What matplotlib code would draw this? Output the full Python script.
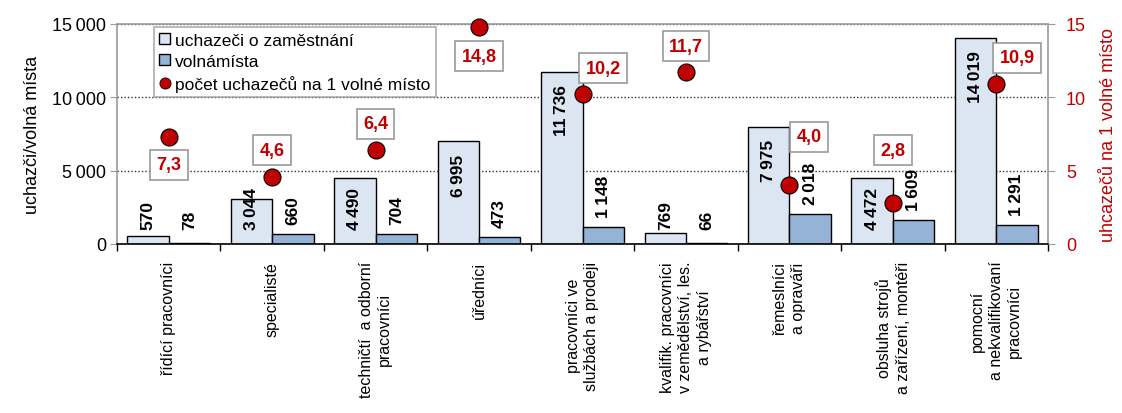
"""
Uchazeči o zaměstnání a volná místa podle tříd CZ-ISCO
bar chart (2 series) + ratio dots on a secondary axis
"""
import matplotlib
matplotlib.use("Agg")
import matplotlib.pyplot as plt
import numpy as np
from matplotlib.lines import Line2D
from matplotlib.patches import Patch

plt.rcParams["font.family"] = ["Liberation Sans", "DejaVu Sans"]

# ==================== data ====================
CATEGORIES = [
    "řídící pracovníci",
    "specialisté",
    "techničtí  a odborní\npracovníci",
    "úředníci",
    "pracovníci ve\nslužbách a prodeji",
    "kvalifik. pracovníci\nv zemědělství, les.\na rybářství",
    "řemeslníci\na opraváři",
    "obsluha strojů\na zařízení, montéři",
    "pomocní\na nekvalifikovaní\npracovníci",
]
UCHAZECI = [570, 3044, 4490, 6995, 11736, 769, 7975, 4472, 14019]
VOLNA_MISTA = [78, 660, 704, 473, 1148, 66, 2018, 1609, 1291]
POCET_NA_MISTO = [7.3, 4.6, 6.4, 14.8, 10.2, 11.7, 4.0, 2.8, 10.9]

Y_TICKS = [0, 5000, 10000, 15000]
Y2_TICKS = [0, 5, 10, 15]

SERIES_NAMES = ["uchazeči o zaměstnání", "volnámísta", "počet uchazečů na 1 volné místo"]
Y_LABEL = "uchazči/volná místa"
Y2_LABEL = "uhcazečů na 1 volné místo"
# ===========================================================

COL_LIGHT = "#DCE6F2"
COL_DARK = "#95B3D7"
COL_RED = "#C00000"
COL_FRAME = "#9A9A9A"

# label box offsets (points) for the ratio values
RATIO_OFFSETS = [(0, -20), (0, 19), (0, 19), (0, -21), (15, 19),
                 (0, 19), (14, 35), (0, 38), (15, 19)]


def fmt_thousands(v: float) -> str:
    """15000 -> '15 000' (thin space)"""
    return f"{int(v):,}".replace(",", "\u2009")


def main() -> None:
    fig = plt.figure(figsize=(11.22, 4.14), dpi=100)
    ax = fig.add_axes([117 / 1122, 1 - 245 / 414, 931 / 1122, 220 / 414])

    x = np.arange(len(CATEGORIES))
    w = 0.4

    ax.bar(x - w / 2, UCHAZECI, width=w, color=COL_LIGHT, edgecolor="black", linewidth=1.0, zorder=2)
    ax.bar(x + w / 2, VOLNA_MISTA, width=w, color=COL_DARK, edgecolor="black", linewidth=1.0, zorder=2)

    ax.set_xlim(-0.5, len(CATEGORIES) - 0.5)
    ax.set_ylim(0, 15000)
    ax.set_yticks(Y_TICKS)
    ax.set_yticklabels([fmt_thousands(v) for v in Y_TICKS], fontsize=13)
    ax.tick_params(axis="y", length=5, color=COL_FRAME, pad=3)
    ax.yaxis.grid(True, linestyle=(0, (1, 1.5)), color="#333333", linewidth=1.0, zorder=1)

    ax.set_xticks(x)
    ax.set_xticklabels(CATEGORIES, rotation=90, va="top", ha="center", fontsize=11.5, linespacing=1.3)
    ax.set_xticks(np.arange(-0.5, len(CATEGORIES)), minor=True)
    ax.tick_params(axis="x", which="major", length=0, pad=12)
    ax.tick_params(axis="x", which="minor", length=5, color="black", width=1)

    for side in ["left", "top", "right"]:
        ax.spines[side].set_color(COL_FRAME)
        ax.spines[side].set_linewidth(1.2)
    ax.spines["bottom"].set_color("black")
    ax.spines["bottom"].set_linewidth(1.2)
    ax.spines["bottom"].set_zorder(5)

    ax.set_ylabel(Y_LABEL, fontsize=13, labelpad=8)

    # data units per pixel
    px = 15000 / (fig.get_figheight() * fig.dpi * ax.get_position().height)
    floor = 15 * px

    # bar value labels
    light_labels = []
    for xi, v in zip(x, UCHAZECI):
        t = ax.text(xi - w / 2, v - 12 * px, fmt_thousands(v), rotation=90, ha="center", va="top",
                    fontsize=12.5, fontweight="bold", zorder=4)
        light_labels.append(t)
    for xi, v in zip(x, VOLNA_MISTA):
        ax.text(xi + w / 2, max(v + 10 * px, floor), fmt_thousands(v), rotation=90, ha="center",
                va="bottom", fontsize=12.5, fontweight="bold", zorder=4)

    # labels that would run below the floor sit on it instead
    fig.canvas.draw()
    renderer = fig.canvas.get_renderer()
    inv = ax.transData.inverted()
    for t in light_labels:
        bb = t.get_window_extent(renderer)
        y0 = inv.transform((bb.x0, bb.y0))[1]
        if y0 < floor:
            t.set_y(floor)
            t.set_va("bottom")

    # secondary axis: ratio
    ax2 = ax.twinx()
    ax2.set_ylim(0, 15)
    ax2.set_yticks(Y2_TICKS)
    ax2.set_yticklabels([str(v) for v in Y2_TICKS], fontsize=13, color=COL_RED)
    ax2.tick_params(axis="y", length=5, color=COL_FRAME, pad=8)
    for side in ["left", "top", "right", "bottom"]:
        ax2.spines[side].set_visible(False)
    ax2.set_ylabel(Y2_LABEL, fontsize=13, color=COL_RED, labelpad=10)

    ax2.scatter(x, POCET_NA_MISTO, s=150, color=COL_RED, edgecolor="black", linewidth=0.8,
                zorder=5, clip_on=False)
    for xi, r, (dx, dy) in zip(x, POCET_NA_MISTO, RATIO_OFFSETS):
        ax2.annotate(f"{r:.1f}".replace(".", ","), (xi, r), xytext=(dx, dy), textcoords="offset points",
                     ha="center", va="center", fontsize=13, fontweight="bold", color=COL_RED,
                     bbox=dict(boxstyle="square,pad=0.35", fc="white", ec=COL_FRAME, lw=1.2), zorder=6)

    handles = [
        Patch(facecolor=COL_LIGHT, edgecolor="black", linewidth=1.0),
        Patch(facecolor=COL_DARK, edgecolor="black", linewidth=1.0),
        Line2D([], [], marker="o", linestyle="none", markersize=8, markerfacecolor=COL_RED,
               markeredgecolor="black", markeredgewidth=0.6),
    ]
    leg = ax2.legend(handles, SERIES_NAMES, loc="upper left", bbox_to_anchor=(0.04, 0.985),
                     borderaxespad=0, fontsize=12.5, frameon=True, fancybox=False,
                     handlelength=0.6, handleheight=0.6, handletextpad=0.3,
                     labelspacing=0.35, borderpad=0.3)
    leg.get_frame().set_edgecolor(COL_FRAME)
    leg.get_frame().set_linewidth(1.2)
    leg.set_zorder(10)

    fig.savefig("out.png", dpi=100)
    plt.close(fig)


if __name__ == "__main__":
    main()
